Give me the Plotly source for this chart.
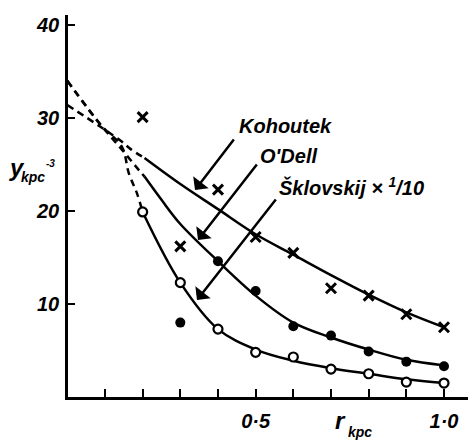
import plotly.graph_objects as go

# ---- data ----
kohoutek_obs_r = [0.2, 0.3, 0.4, 0.5, 0.6, 0.7, 0.8, 0.9, 1.0]
kohoutek_obs_y = [30.1, 16.2, 22.3, 17.2, 15.5, 11.7, 10.9, 8.9, 7.5]

odell_obs_r = [0.3, 0.4, 0.5, 0.6, 0.7, 0.8, 0.9, 1.0]
odell_obs_y = [8.0, 14.6, 11.4, 7.6, 6.6, 4.9, 3.8, 3.3]

sklovskij_obs_r = [0.2, 0.3, 0.4, 0.5, 0.6, 0.7, 0.8, 0.9, 1.0]
sklovskij_obs_y = [19.9, 12.3, 7.3, 4.8, 4.3, 3.0, 2.5, 1.6, 1.5]

# fitted curves (solid part)
kohoutek_fit_r = [0.205, 0.3, 0.4, 0.5, 0.6, 0.7, 0.8, 0.9, 1.0]
kohoutek_fit_y = [25.7, 22.9, 20.2, 17.5, 15.3, 13.1, 11.0, 9.1, 7.5]
odell_fit_r = [0.205, 0.25, 0.3, 0.4, 0.5, 0.6, 0.7, 0.8, 0.9, 1.0]
odell_fit_y = [23.7, 21.2, 18.6, 14.6, 10.9, 8.0, 6.4, 5.1, 4.0, 3.4]
sklovskij_fit_r = [0.2, 0.3, 0.4, 0.5, 0.6, 0.7, 0.8, 0.9, 1.0]
sklovskij_fit_y = [19.9, 12.3, 7.3, 5.1, 3.9, 3.1, 2.5, 1.9, 1.5]

# extrapolated (dashed) parts
kohoutek_ext_r = [0.0, 0.09, 0.14, 0.17, 0.205]
kohoutek_ext_y = [31.4, 29.0, 27.6, 26.6, 25.7]
odell_ext_r = [0.0, 0.09, 0.145, 0.19, 0.205]
odell_ext_y = [34.0, 29.2, 26.6, 24.4, 23.7]
sklovskij_ext_r = [0.0, 0.09, 0.145, 0.163, 0.185, 0.2]
sklovskij_ext_y = [34.0, 29.2, 26.9, 24.1, 21.9, 19.9]

x_tickvals = [0.1, 0.2, 0.3, 0.4, 0.5, 0.6, 0.7, 0.8, 0.9, 1.0]
x_ticktext = ["", "", "", "", "0·5", "", "", "", "", "1·0"]
y_tickvals = [10, 20, 30, 40]
y_ticktext = ["10", "20", "30", "40"]

labels = ["Kohoutek", "O'Dell", "Šklovskij × <sup>1</sup>/10"]

# ---- figure ----
W, H = 468, 444
L, R, T, B = 68, 0, 15, 47
PW, PH = W - L - R, H - T - B
XS = 376.7   # px per unit r
YS = 9.3     # px per unit y

FONT = dict(family="Liberation Sans", color="black", size=20, weight="bold", style="italic")

fig = go.Figure()
for rr, yy in [(kohoutek_ext_r, kohoutek_ext_y), (odell_ext_r, odell_ext_y), (sklovskij_ext_r, sklovskij_ext_y)]:
    fig.add_trace(go.Scatter(x=rr, y=yy, mode="lines", line=dict(color="black", width=2.5, dash="7px,5px", shape="spline"),
                             hoverinfo="skip", showlegend=False))
for rr, yy in [(kohoutek_fit_r, kohoutek_fit_y), (odell_fit_r, odell_fit_y), (sklovskij_fit_r, sklovskij_fit_y)]:
    fig.add_trace(go.Scatter(x=rr, y=yy, mode="lines", line=dict(color="black", width=2.5, shape="spline", smoothing=1.0),
                             showlegend=False))

fig.add_trace(go.Scatter(x=kohoutek_obs_r, y=kohoutek_obs_y, mode="markers", name="Kohoutek",
                         marker=dict(symbol="x-thin", size=10, line=dict(color="black", width=3)), showlegend=False))
fig.add_trace(go.Scatter(x=odell_obs_r, y=odell_obs_y, mode="markers", name="O'Dell",
                         marker=dict(symbol="circle", size=10, color="black"), showlegend=False))
fig.add_trace(go.Scatter(x=sklovskij_obs_r, y=sklovskij_obs_y, mode="markers", name="Šklovskij",
                         marker=dict(symbol="circle", size=9, color="white", line=dict(color="black", width=2.2)),
                         showlegend=False))

def dx(p):
    return (p - 67.3) / XS

def dy(p):
    return (397 - p) / YS

def qx(p):
    return (p - L) / PW

def qy(p):
    return (H - B - p) / PH

ann = []
for txt, (xl, yc) in zip(labels, [(237, 126), (258, 156), (277, 186)]):
    ann.append(dict(x=dx(xl), y=dy(yc), xref="x", yref="y", text=txt, showarrow=False,
                    xanchor="left", yanchor="middle", font=FONT))
for (tx, ty), (hx, hy) in [((235, 138), (195, 190)), ((258, 163), (198, 240)), ((277, 198), (197, 300))]:
    ann.append(dict(x=dx(hx), y=dy(hy), ax=dx(tx), ay=dy(ty), xref="x", yref="y", axref="x", ayref="y",
                    text="", showarrow=True, arrowhead=1, arrowsize=1.3, arrowwidth=2.5, arrowcolor="black",
                    standoff=0, startstandoff=0))
ann.append(dict(x=qx(17), y=qy(167), xref="paper", yref="paper", text="y", showarrow=False,
                xanchor="center", yanchor="middle", font=dict(FONT, size=24)))
ann.append(dict(x=qx(33), y=qy(177), xref="paper", yref="paper", text="kpc", showarrow=False,
                xanchor="center", yanchor="middle", font=dict(FONT, size=14)))
ann.append(dict(x=qx(50), y=qy(163), xref="paper", yref="paper", text="-3", showarrow=False,
                xanchor="center", yanchor="middle", font=dict(FONT, size=10)))
ann.append(dict(x=qx(340), y=qy(420), xref="paper", yref="paper", text="r", showarrow=False,
                xanchor="center", yanchor="middle", font=dict(FONT, size=24)))
ann.append(dict(x=qx(360), y=qy(432), xref="paper", yref="paper", text="kpc", showarrow=False,
                xanchor="center", yanchor="middle", font=dict(FONT, size=14)))

fig.update_layout(
    template="none",
    width=W, height=H, margin=dict(l=L, r=R, t=T, b=B, autoexpand=False),
    paper_bgcolor="white", plot_bgcolor="white",
    annotations=ann, showlegend=False,
    xaxis=dict(range=[dx(L), dx(W)], automargin=False, showgrid=False, zeroline=False, showline=True,
               linecolor="black", linewidth=2.5,
               ticks="inside", ticklen=8, tickwidth=2.2, tickcolor="black",
               tickvals=x_tickvals, ticktext=x_ticktext, tickfont=FONT, ticklabelstandoff=4),
    yaxis=dict(range=[0, dy(T)], automargin=False, showgrid=False, zeroline=False, showline=True,
               linecolor="black", linewidth=2.5,
               ticks="inside", ticklen=7, tickwidth=2.2, tickcolor="black",
               tickvals=y_tickvals, ticktext=y_ticktext, tickfont=FONT, ticklabelstandoff=2),
)

fig.write_html("out.html", config={"displayModeBar": False},
               post_script="document.body.style.margin='0';document.body.style.overflow='hidden';")
